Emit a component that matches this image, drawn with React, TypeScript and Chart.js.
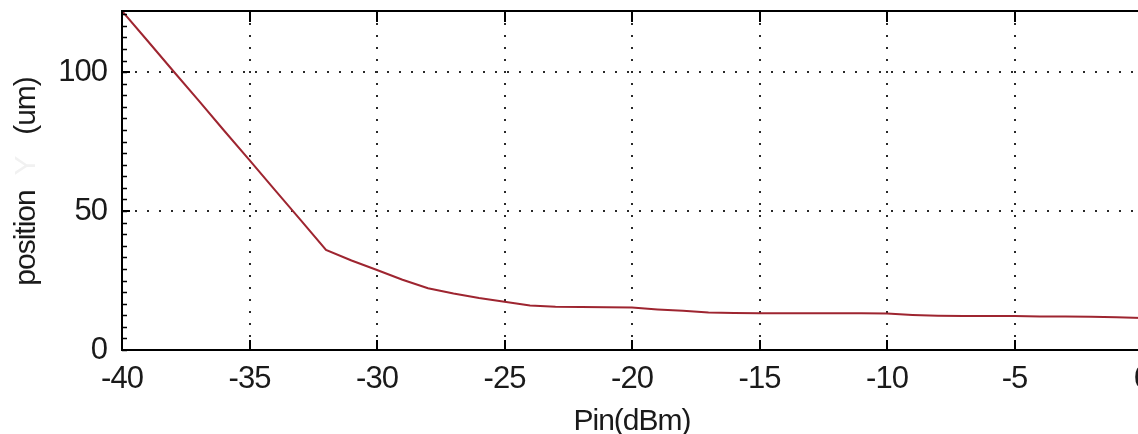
import React, { useEffect, useRef } from 'react';
import { Chart, registerables } from 'chart.js';

Chart.register(...registerables);

const PIN_DBM = [
  -40, -39, -38, -37, -36, -35, -34, -33, -32, -31, -30, -29, -28, -27, -26, -25, -24, -23, -22, -21,
  -20, -19, -18, -17, -16, -15, -14, -13, -12, -11, -10, -9, -8, -7, -6, -5, -4, -3, -2, -1, 0,
];
const POSITION_UM = [
  122, 111.3, 100.5, 89.8, 79, 68.3, 57.5, 46.8, 36, 32.2, 28.8, 25.3, 22.2, 20.3, 18.7, 17.4, 16.0, 15.6, 15.5, 15.4,
  15.3, 14.6, 14.1, 13.5, 13.3, 13.2, 13.2, 13.2, 13.2, 13.2, 13.1, 12.6, 12.3, 12.2, 12.2, 12.2, 12.1, 12.1, 12.0, 11.8, 11.5,
];
const X_TICKS = [-40, -35, -30, -25, -20, -15, -10, -5, 0];
const Y_TICKS = [0, 50, 100];
const X_MIN = -40;
const X_MAX = 0;
const Y_MIN = 0;
const Y_MAX = 122;
const X_TITLE = 'Pin(dBm)';
const Y_TITLE_WORD = 'position';
const Y_TITLE_SYMBOL = 'Y';
const Y_TITLE_UNIT = '(um)';

const FONT_FAMILY = "'Liberation Sans', Arial, sans-serif";

const spacingPlugin = {
  id: 'tightText',
  beforeUpdate(chart: any) {
    (chart.ctx as any).letterSpacing = '-1px';
  },
  beforeDraw(chart: any) {
    (chart.ctx as any).letterSpacing = '-1px';
  },
};

const framePlugin = {
  id: 'matlabFrame',
  afterDraw(chart: any) {
    const { ctx, chartArea, scales } = chart;
    const xs = scales.x;
    const ys = scales.y;
    ctx.save();
    ctx.strokeStyle = '#000';
    ctx.lineWidth = 2;
    ctx.beginPath();
    ctx.moveTo(chartArea.left - 1, chartArea.top);
    ctx.lineTo(chartArea.right + 1, chartArea.top);
    ctx.moveTo(chartArea.right, chartArea.top);
    ctx.lineTo(chartArea.right, chartArea.bottom);
    ctx.stroke();
    ctx.beginPath();
    X_TICKS.forEach((v) => {
      const px = Math.round(xs.getPixelForValue(v));
      ctx.moveTo(px, chartArea.bottom);
      ctx.lineTo(px, chartArea.bottom - 10);
      ctx.moveTo(px, chartArea.top);
      ctx.lineTo(px, chartArea.top + 11);
    });
    Y_TICKS.forEach((v) => {
      const py = Math.round(ys.getPixelForValue(v));
      ctx.moveTo(chartArea.left, py);
      ctx.lineTo(chartArea.left + 8, py);
    });
    ctx.stroke();
    ctx.lineWidth = 1.5;
    ctx.beginPath();
    const minorStep = 50 / 12;
    for (let v = Y_MIN; v <= Y_MAX; v += minorStep) {
      const py = Math.round(ys.getPixelForValue(v)) + 0.5;
      ctx.moveTo(chartArea.left, py);
      ctx.lineTo(chartArea.left + 5, py);
    }
    ctx.stroke();
    ctx.font = `30px ${FONT_FAMILY}`;
    ctx.textAlign = 'center';
    ctx.textBaseline = 'middle';
    const drawRot = (text: string, cx: number, cy: number, color: string) => {
      ctx.save();
      ctx.translate(cx, cy);
      ctx.rotate(-Math.PI / 2);
      ctx.fillStyle = color;
      ctx.fillText(text, 0, 0);
      ctx.restore();
    };
    drawRot(Y_TITLE_WORD, 27, 238, '#1a1a1a');
    drawRot(Y_TITLE_SYMBOL, 27, 166, '#f1f1f1');
    drawRot(Y_TITLE_UNIT, 27, 106, '#1a1a1a');
    ctx.restore();
  },
};

export default function App() {
  const canvasRef = useRef<HTMLCanvasElement | null>(null);

  useEffect(() => {
    document.body.style.margin = '0';
    const canvas = canvasRef.current;
    if (!canvas) return;
    const tickFont = { family: FONT_FAMILY, size: 31 };
    const chart = new Chart(canvas, {
      type: 'line',
      data: {
        datasets: [
          {
            data: PIN_DBM.map((x, i) => ({ x, y: POSITION_UM[i] })),
            borderColor: '#9e2530',
            borderWidth: 2,
            pointRadius: 0,
            tension: 0,
            fill: false,
          },
        ],
      },
      plugins: [spacingPlugin, framePlugin],
      options: {
        animation: false,
        responsive: false,
        devicePixelRatio: 1,
        layout: { padding: { top: 11, right: 18, left: 0, bottom: 0 } },
        plugins: { legend: { display: false }, tooltip: { enabled: false } },
        scales: {
          x: {
            type: 'linear',
            min: X_MIN,
            max: X_MAX,
            afterBuildTicks: (s: any) => {
              s.ticks = X_TICKS.map((value) => ({ value }));
            },
            afterFit: (s: any) => {
              s.height = 100;
              s.paddingLeft = 0;
              s.paddingRight = 0;
            },
            ticks: {
              font: tickFont,
              color: '#1a1a1a',
              padding: 11,
              maxRotation: 0,
              autoSkip: false,
              callback: (v: any) => String(v),
            },
            grid: { color: '#2a2a2a', lineWidth: 2, drawTicks: false },
            border: { display: true, color: '#000', width: 2, dash: [2, 10] },
            title: {
              display: true,
              text: X_TITLE,
              color: '#1a1a1a',
              font: { family: FONT_FAMILY, size: 30 },
              padding: { top: 0, bottom: 10 },
            },
          },
          y: {
            type: 'linear',
            min: Y_MIN,
            max: Y_MAX,
            afterBuildTicks: (s: any) => {
              s.ticks = Y_TICKS.map((value) => ({ value }));
            },
            afterFit: (s: any) => {
              s.width = 122;
              s.paddingTop = 0;
              s.paddingBottom = 0;
            },
            ticks: {
              font: tickFont,
              color: '#1a1a1a',
              padding: 15,
              autoSkip: false,
              callback: (v: any) => String(v),
            },
            grid: { color: '#2a2a2a', lineWidth: 2, drawTicks: false },
            border: { display: true, color: '#000', width: 2, dash: [2, 10] },
          },
        },
      },
    } as any);
    return () => chart.destroy();
  }, []);

  return (
    <div
      style={{
        position: 'absolute',
        left: 0,
        top: 0,
        width: 1138,
        height: 434,
        overflow: 'hidden',
        background: '#fff',
      }}
    >
      <canvas ref={canvasRef} width={1160} height={450} style={{ display: 'block', width: 1160, height: 450 }} />
    </div>
  );
}
